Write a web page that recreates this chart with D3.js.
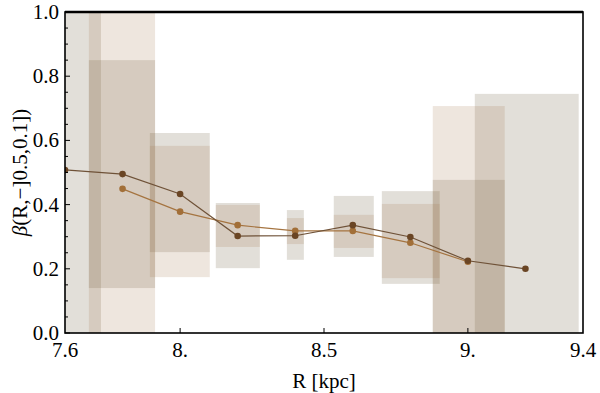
<!DOCTYPE html>
<html>
<head>
<meta charset="utf-8">
<script src="https://cdnjs.cloudflare.com/ajax/libs/d3/7.8.5/d3.min.js"></script>
<style>
  @font-face { font-family: 'PlotSerif'; src: local('Liberation Serif'), local('LiberationSerif'), local('Liberation Serif Regular'); }
  @font-face { font-family: 'PlotSerif'; font-style: italic; src: local('Liberation Serif Italic'), local('LiberationSerif-Italic'); }
  svg text { font-family: 'Liberation Serif', 'PlotSerif', 'Times New Roman', monospace !important; }
</style>
</head>
<body style="margin:0">
<script>
// Bins in R [kpc]
const binsA = [7.6, 7.8, 8.0, 8.2, 8.4, 8.6, 8.8, 9.0, 9.2];
const binsB = [7.8, 8.0, 8.2, 8.4, 8.6, 8.8, 9.0];

// Points of the two series
const betaA = [0.508, 0.495, 0.433, 0.302, 0.303, 0.336, 0.299, 0.225, 0.200];
const betaB = [0.449, 0.378, 0.336, 0.318, 0.318, 0.281, 0.222];

// Box extents in R for series A (grey) and B (pink)
const boxA_x0 = [7.47, 7.683, 7.895, 8.124, 8.371, 8.534, 8.701, 8.878, 9.024];
const boxA_x1 = [7.725, 7.913, 8.103, 8.277, 8.430, 8.673, 8.902, 9.128, 9.385];
const boxB_x0 = [7.683, 7.895, 8.124, 8.371, 8.534, 8.701, 8.878];
const boxB_x1 = [7.913, 8.103, 8.277, 8.430, 8.673, 8.902, 9.128];

// Box extents in beta
const boxA_lo = [0.0, 0.140, 0.252, 0.202, 0.228, 0.237, 0.153, 0.0, 0.0];
const boxA_hi = [1.05, 0.850, 0.623, 0.405, 0.383, 0.427, 0.442, 0.477, 0.745];
const boxB_lo = [0.0, 0.174, 0.268, 0.277, 0.265, 0.171, 0.0];
const boxB_hi = [1.05, 0.583, 0.399, 0.358, 0.368, 0.402, 0.707];

// Ticks
const xTicks = [7.6, 8.0, 8.5, 9.0, 9.4];
const xTickLabels = ['7.6', '8.', '8.5', '9.', '9.4'];
const yTicks = [0, 0.2, 0.4, 0.6, 0.8, 1.0];
const yTickLabels = ['0.0', '0.2', '0.4', '0.6', '0.8', '1.0'];

const W = 600, H = 393;
const m = { left: 65, right: 583, top: 12, bottom: 333 };
const serif = "'Liberation Serif', 'PlotSerif', monospace";

const svg = d3.select('body').append('svg')
    .attr('width', W)
    .attr('height', H)
    .attr('font-family', 'Liberation Serif');

const x = d3.scaleLinear().domain([7.6, 9.4]).range([m.left, m.right]);
const y = d3.scaleLinear().domain([0, 1]).range([m.bottom, m.top]);

svg.append('clipPath').attr('id', 'clip')
  .append('rect')
    .attr('x', m.left).attr('y', m.top)
    .attr('width', m.right - m.left).attr('height', m.bottom - m.top);

const plot = svg.append('g').attr('clip-path', 'url(#clip)');

// Boxes
function drawBoxes(x0s, x1s, los, his, color) {
    plot.append('g').selectAll('rect')
        .data(x0s.map((d, i) => ({ x0: d, x1: x1s[i], lo: los[i], hi: his[i] })))
        .enter()
        .append('rect')
        .attr('x', d => x(d.x0))
        .attr('width', d => x(d.x1) - x(d.x0))
        .attr('y', d => y(d.hi))
        .attr('height', d => y(d.lo) - y(d.hi))
        .attr('fill', color)
        .attr('fill-opacity', 0.18);
}
drawBoxes(boxA_x0, boxA_x1, boxA_lo, boxA_hi, 'rgb(95,75,42)');
drawBoxes(boxB_x0, boxB_x1, boxB_lo, boxB_hi, 'rgb(160,115,70)');

// Lines and points
function drawSeries(bins, vals, lineColor, dotColor) {
    const pts = bins.map((b, i) => [b, vals[i]]);
    plot.append('path')
        .datum(pts)
        .attr('fill', 'none')
        .attr('stroke', lineColor)
        .attr('stroke-width', 1.2)
        .attr('d', d3.line().x(d => x(d[0])).y(d => y(d[1])));
    plot.append('g').selectAll('circle')
        .data(pts)
        .enter()
        .append('circle')
        .attr('cx', d => x(d[0]))
        .attr('cy', d => y(d[1]))
        .attr('r', 3.3)
        .attr('fill', dotColor);
}
drawSeries(binsB, betaB, '#a57440', '#a26f38');
drawSeries(binsA, betaA, '#6f5238', '#6a4524');

// Frame
svg.append('rect')
    .attr('x', m.left).attr('y', m.top)
    .attr('width', m.right - m.left).attr('height', m.bottom - m.top)
    .attr('fill', 'none')
    .attr('stroke', '#000')
    .attr('stroke-width', 1.6);
svg.append('line')
    .attr('x1', m.left).attr('x2', m.right)
    .attr('y1', m.top).attr('y2', m.top)
    .attr('stroke', '#000')
    .attr('stroke-width', 2.4);

// X ticks (inside)
svg.append('g').selectAll('line')
    .data(xTicks.slice(1, -1))
    .enter()
    .append('line')
    .attr('x1', d => x(d)).attr('x2', d => x(d))
    .attr('y1', m.bottom).attr('y2', m.bottom - 5)
    .attr('stroke', '#000');

svg.append('g').selectAll('text')
    .data(xTicks)
    .enter()
    .append('text')
    .attr('x', d => x(d))
    .attr('y', 357)
    .attr('text-anchor', 'middle')
    .attr('font-size', 21)
    .style('font-family', serif)
    .text((d, i) => xTickLabels[i]);

// Y ticks: major and minor, pointing inward
const yMinor = d3.range(0, 21).map(i => i * 0.05);
svg.append('g').selectAll('line')
    .data(yMinor)
    .enter()
    .append('line')
    .attr('x1', m.left)
    .attr('x2', (d, i) => m.left + (i % 4 === 0 ? 5 : 3))
    .attr('y1', d => y(d)).attr('y2', d => y(d))
    .attr('stroke', '#000');

svg.append('g').selectAll('text')
    .data(yTicks)
    .enter()
    .append('text')
    .attr('x', 59)
    .attr('y', d => y(d) + 7)
    .attr('text-anchor', 'end')
    .attr('font-size', 21)
    .style('font-family', serif)
    .text((d, i) => yTickLabels[i]);

// Axis titles
svg.append('text')
    .attr('x', (m.left + m.right) / 2)
    .attr('y', 388)
    .attr('text-anchor', 'middle')
    .attr('font-size', 21)
    .style('font-family', serif)
    .text('R [kpc]');

const yt = svg.append('text')
    .attr('transform', `translate(27,${(m.top + m.bottom) / 2}) rotate(-90)`)
    .attr('text-anchor', 'middle')
    .attr('font-size', 21)
    .style('font-family', serif);
yt.append('tspan').style('font-style', 'italic').text('β');
yt.append('tspan').text('(R,\u2212]0.5,0.1])');
</script>
</body>
</html>
